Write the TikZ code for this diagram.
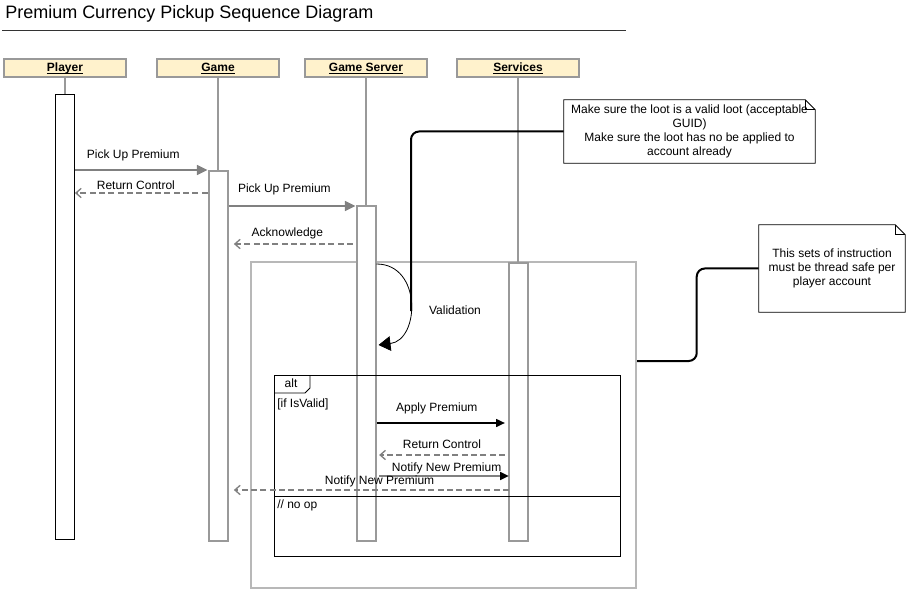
\documentclass[tikz,border=0pt]{standalone}
\usepackage{fontspec}
\setmainfont{Liberation Sans}
\usetikzlibrary{arrows.meta,positioning,calc}
\definecolor{headfill}{HTML}{FFF2CC}
\definecolor{lifegray}{HTML}{999999}
\definecolor{framegray}{HTML}{B8B8B8}
\definecolor{msggray}{HTML}{808080}
\newcommand\notebox[1]{%
  \draw[black, line width=.6pt] (#1.north west) -- ([xshift=-7.5pt]#1.north east)
    -- ([yshift=-7.5pt]#1.north east) -- (#1.south east) -- (#1.south west) -- cycle;
  \draw[black, line width=.4pt] ([xshift=-7.5pt]#1.north east) |- ([yshift=-7.5pt]#1.north east);}
\newcommand\headtext[1]{\underline{\smash{#1}}}
\tikzset{every node/.style={font=\fontsize{9}{10.5}\selectfont, inner sep=0pt},
         head/.style={draw=lifegray, line width=1.5pt, fill=headfill,
           minimum width=91pt, minimum height=13.5pt, text height=6.5pt, text depth=1pt,
           font=\fontsize{9}{10.5}\selectfont\bfseries},
         life/.style={draw=lifegray, line width=1.2pt},
         act/.style={draw=lifegray, line width=1.5pt, fill=white, minimum width=14.25pt,
           minimum height=#1*0.75pt, anchor=north},
         msg/.style={draw=msggray, line width=1.2pt, -{Triangle[length=8pt,width=7.5pt]}},
         reply/.style={draw=msggray, line width=1pt, dash pattern=on 4.5pt off 2.5pt,
           -{Straight Barb[length=4pt,width=7pt]}},
         call/.style={draw=black, line width=.8pt, -{Triangle[length=6.5pt,width=6pt]}},
         note/.style={minimum width=#1, align=center},
         link/.style={draw=black, line width=1.5pt, rounded corners=6pt}}

\begin{document}
\begin{tikzpicture}[x=0.75pt,y=-0.75pt]
  \useasboundingbox (0,0) rectangle (917,595);
  % title
  \node[anchor=west, font=\fontsize{13.5}{16}\selectfont] (title) at (5,14)
       {Premium Currency Pickup Sequence Diagram};
  \draw[black!80, line width=.6pt] (2,30) -- (626,30);
  % participants
  \node[head] (player)   at (65,68)  {\headtext{Player}};
  \node[head] (game)     at (218,68) {\headtext{Game}};
  \node[head] (server)   at (366,68) {\headtext{Game Server}};
  \node[head] (services) at (518,68) {\headtext{Services}};
  % thread safe region
  \node[draw=framegray, line width=1.5pt, minimum width=288.75pt, minimum height=244.5pt,
        anchor=north west] (frame) at (250,261) {};
  % activations
  \node[act=445, draw=black, line width=.6pt] (pAct) at (65,94) {};
  \node[act=370] (gAct) at (218,170) {};
  \node[act=335] (sAct) at (366,205) {};
  \node[act=278] (vAct) at (518,262) {};
  \foreach \p/\a in {player/pAct,game/gAct,server/sAct,services/vAct}
    \draw[life] (\p.south) -- (\a.north);
  % alt fragment
  \node[draw=black, line width=.7pt, minimum width=259.5pt, minimum height=135.75pt,
        anchor=north west] (alt) at (274,375) {};
  \draw[line width=.6pt] (alt.north west) ++(36,0) -- ++(0,13) -- ++(-5,5) -- ++(-31,0);
  \node (altLbl) at (291,383) {alt};
  \node[anchor=west] (ifLbl) at (277,404) {[if IsValid]};
  \draw[line width=.6pt] (alt.west |- 0,496) -- (alt.east |- 0,496);
  \node[anchor=west] (elseLbl) at (277,505) {// no op};
  % messages
  \draw[msg] (pAct.east |- 0,170) -- node[pos=.44, above=6pt] {Pick Up Premium} (gAct.west |- 0,170);
  \draw[reply] (gAct.west |- 0,193) -- node[pos=.54, above=2pt] {Return Control} (pAct.east |- 0,193);
  \draw[msg] (gAct.east |- 0,206) -- node[pos=.44, above=7.5pt] {Pick Up Premium} (sAct.west |- 0,206);
  \draw[reply] ([xshift=-2pt]sAct.west |- 0,244) -- node[pos=.55, above=3.5pt] {Acknowledge}
        ([xshift=4pt]gAct.east |- 0,244);
  \draw[black, line width=.6pt, -{Triangle[length=9pt,width=11pt]}]
        (sAct.east |- 0,264) .. controls (422,264) and (420,340) .. ([xshift=1.5pt]sAct.east |- 0,345);
  \node (valLbl) at (455,310) {Validation};
  \draw[call] (sAct.east |- 0,423) -- node[pos=.47, above=6pt] {Apply Premium} ([xshift=-2pt]vAct.west |- 0,423);
  \draw[reply] ([xshift=-2pt]vAct.west |- 0,455) -- node[pos=.5, above=4.5pt] {Return Control}
        ([xshift=2pt]sAct.east |- 0,455);
  \draw[msg, -{Triangle[length=6.5pt,width=6pt,black]}] ([xshift=2pt]sAct.east |- 0,476)
        -- node[pos=.52, above=1pt] {Notify New Premium} ([xshift=1pt]vAct.west |- 0,476);
  \draw[reply] ([xshift=1pt]vAct.west |- 0,490) -- node[pos=.47, above=2pt] {Notify New Premium}
        ([xshift=4pt]gAct.east |- 0,490);
  % notes
  \node[note=188.25pt, minimum height=47.25pt] (lootNote) at (689.5,131.5)
       {Make sure the loot is a valid loot (acceptable\\GUID)\\Make sure the loot has no be applied to\\account already};
  \notebox{lootNote}
  \node[note=109.5pt, minimum height=65.25pt] (safeNote) at (832,268.5)
       {This sets of instruction\\must be thread safe per\\player account};
  \notebox{safeNote}
  \coordinate (valTip) at (411,311);
  \draw[link] (lootNote.west) -| (valTip);
  \draw[link] (safeNote.west) -- ++(-62,0) |- (frame.east |- 0,361);
\end{tikzpicture}
\end{document}
